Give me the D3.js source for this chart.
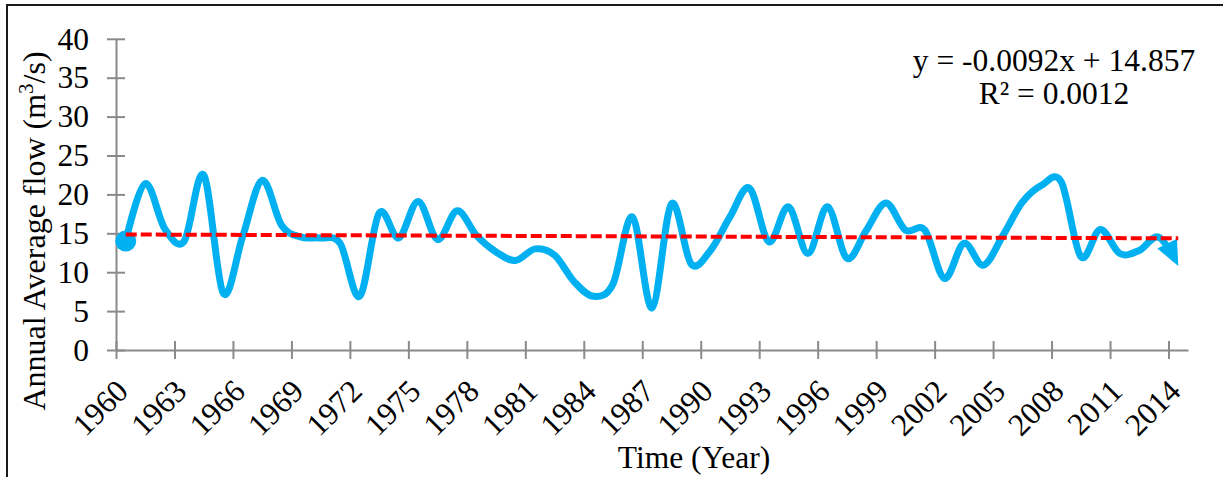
<!DOCTYPE html>
<head>
  <meta charset="utf-8" />
  <script src="https://d3js.org/d3.v7.min.js"></script>
  <style>
    body {
      margin: 0;
      background-color: #fff;
    }
    text {
      font-family: "Liberation Serif", "Times New Roman", serif;
      fill: #000;
    }
    .axis path,
    .axis line {
      stroke: #8a8a8a;
      stroke-width: 2;
    }
  </style>
</head>

<body>
  <script>
    // annual average flow, one value per year (m3/s)
    var years = d3.range(1960, 2015);
    var flow = [
      14.0, 21.4, 15.6, 14.0, 22.5, 7.3, 14.6, 21.8, 16.0, 14.5,
      14.4, 13.7, 6.9, 17.6, 14.4, 19.1, 14.2, 17.9, 14.7, 12.6,
      11.5, 13.0, 12.2, 8.8, 6.9, 8.5, 17.1, 5.4, 18.8, 11.1,
      12.8, 17.1, 20.8, 13.9, 18.4, 12.4, 18.4, 11.8, 15.4, 18.9,
      15.4, 15.4, 9.2, 13.7, 10.9, 14.7, 19.0, 21.2, 21.6, 12.0,
      15.5, 12.4, 12.8, 14.5, 10.8
    ];
    var xTicks = d3.range(1960, 2015, 3);
    var yTicks = d3.range(0, 45, 5);
    // trendline as shown on the chart
    var slope = -0.0092,
      intercept = 14.857;
    var eqLines = ["y = -0.0092x + 14.857", "R\u00b2 = 0.0012"];

    var width = 1223,
      height = 477;
    var blue = "#00b0f0";
    var fs = "31.5px";

    var svg = d3
      .select("body")
      .append("svg")
      .attr("width", width)
      .attr("height", height);

    // outer chart frame
    svg
      .append("rect")
      .attr("x", 7)
      .attr("y", 5)
      .attr("width", 1240)
      .attr("height", 500)
      .attr("fill", "none")
      .attr("stroke", "#1a1a1a")
      .attr("stroke-width", 2);

    var x = d3.scaleLinear().domain([1960, 2015]).range([116, 1188]);
    var y = d3.scaleLinear().domain([0, 40]).range([350, 38.8]);

    // axes, ticks cross the axis line
    var gx = svg
      .append("g")
      .attr("class", "axis")
      .attr("transform", "translate(0," + y(0) + ")")
      .call(d3.axisBottom(x).tickValues(xTicks).tickSize(9).tickSizeOuter(0));
    gx.selectAll(".tick line").attr("y1", -9);
    gx.selectAll(".tick text").remove();

    var gy = svg
      .append("g")
      .attr("class", "axis")
      .attr("transform", "translate(" + x(1960) + ",0)")
      .call(d3.axisLeft(y).tickValues(yTicks).tickSize(9).tickSizeOuter(0));
    gy.selectAll(".tick line").attr("x1", 9);
    gy.selectAll(".tick text").remove();

    svg
      .append("g")
      .selectAll("text")
      .data(yTicks)
      .enter()
      .append("text")
      .attr("x", 89)
      .attr("y", d => y(d))
      .attr("dy", "0.34em")
      .attr("text-anchor", "end")
      .style("font-size", fs)
      .text(d => d);

    svg
      .append("g")
      .selectAll("text")
      .data(xTicks)
      .enter()
      .append("text")
      .attr("text-anchor", "end")
      .attr("transform", d => "translate(" + (x(d) + 14) + ",393) rotate(-45)")
      .style("font-size", fs)
      .text(d => d);

    // axis titles
    svg
      .append("text")
      .attr("x", 694)
      .attr("y", 468)
      .attr("text-anchor", "middle")
      .style("font-size", fs)
      .text("Time (Year)");

    var yt = svg
      .append("text")
      .attr("transform", "translate(45,231) rotate(-90)")
      .attr("text-anchor", "middle")
      .style("font-size", "32px");
    yt.append("tspan").text("Annual Average flow (m");
    yt.append("tspan").attr("dy", -12).style("font-size", "21px").text("3");
    yt.append("tspan").attr("dy", 12).text("/s)");

    // flow line
    var pts = years.map((yr, i) => [x(yr + 0.5), y(flow[i])]);

    svg
      .append("defs")
      .append("marker")
      .attr("id", "arrow")
      .attr("markerUnits", "userSpaceOnUse")
      .attr("viewBox", "0 -11 25 22")
      .attr("refX", 25)
      .attr("refY", 0)
      .attr("markerWidth", 25)
      .attr("markerHeight", 22)
      .attr("orient", "auto")
      .append("path")
      .attr("d", "M0,-11L25,0L0,11Z")
      .attr("fill", blue);

    var line = d3
      .line()
      .curve(d3.curveCatmullRom.alpha(0));

    var flowPath = svg
      .append("path")
      .attr("d", line(pts))
      .attr("fill", "none")
      .attr("stroke", blue)
      .attr("stroke-width", 7)
      .attr("stroke-linejoin", "round");

    // arrow head at the end, line stops a bit short of the tip
    var L = flowPath.node().getTotalLength();
    flowPath.attr("stroke-dasharray", L - 12 + " " + L);
    svg
      .append("path")
      .attr("d", line(pts))
      .attr("fill", "none")
      .attr("stroke", "none")
      .attr("marker-end", "url(#arrow)");

    svg
      .append("circle")
      .attr("cx", pts[0][0])
      .attr("cy", pts[0][1])
      .attr("r", 10.5)
      .attr("fill", blue);

    // linear trendline
    var n = flow.length;
    svg
      .append("line")
      .attr("x1", x(years[0] + 0.5))
      .attr("y1", y(slope * 1 + intercept))
      .attr("x2", x(years[n - 1] + 0.5))
      .attr("y2", y(slope * n + intercept))
      .attr("stroke", "#ff0000")
      .attr("stroke-width", 4)
      .attr("stroke-dasharray", "11,4");

    svg
      .append("g")
      .selectAll("text")
      .data(eqLines)
      .enter()
      .append("text")
      .attr("x", 1054)
      .attr("y", (d, i) => 71 + i * 33)
      .attr("text-anchor", "middle")
      .style("font-size", fs)
      .text(d => d);
  </script>
</body>
